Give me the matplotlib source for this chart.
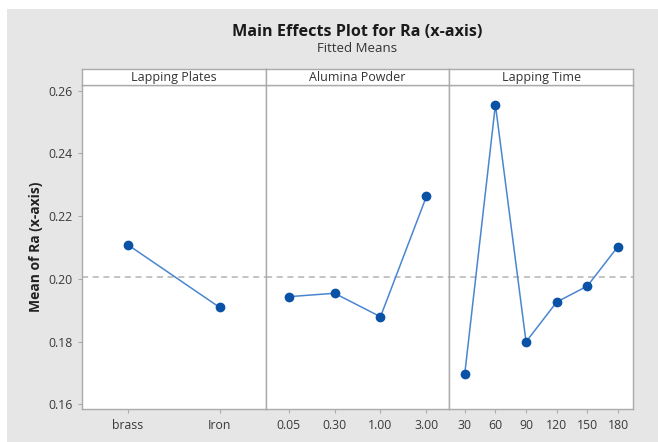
import matplotlib.pyplot as plt
from matplotlib.patches import Rectangle

plt.rcParams['font.family'] = ['Open Sans', 'DejaVu Sans']

# fitted means
plates_labels = ['brass', 'Iron']
plates_means = [0.2109, 0.1909]

powder_labels = ['0.05', '0.30', '1.00', '3.00']
powder_means = [0.1943, 0.1954, 0.1879, 0.2263]

time_labels = ['30', '60', '90', '120', '150', '180']
time_means = [0.1697, 0.2555, 0.1799, 0.1926, 0.1977, 0.2103]

panel_titles = ['Lapping Plates', 'Alumina Powder', 'Lapping Time']
grand_mean = 0.2007
y_ticks = [0.16, 0.18, 0.20, 0.22, 0.24, 0.26]

W, H = 658, 442
fig = plt.figure(figsize=(W / 100, H / 100), dpi=100)
fig.patch.set_facecolor('white')
fig.patches.append(Rectangle((7 / W, 0), 1 - 7 / W, 1 - 9 / H,
                             transform=fig.transFigure, facecolor='#e6e6e6',
                             edgecolor='none', zorder=-10))

left, right = 81.7, 633.3
top, bottom = 84.7, 409.3
strip_top = 69.0
pw = (right - left) / 3
spine_col = '#ababab'
line_col = '#4a86d0'
mark_col = '#0a52a6'

panels = [(plates_labels, plates_means),
          (powder_labels, powder_means),
          (time_labels, time_means)]

for i, (labels, means) in enumerate(panels):
    x0 = left + i * pw
    ax = fig.add_axes([x0 / W, 1 - bottom / H, pw / W, (bottom - top) / H])
    ax.set_facecolor('white')
    xs = list(range(1, len(labels) + 1))
    ax.axhline(grand_mean, color='#b4b4b4', lw=1.1, ls=(0, (4, 3)), zorder=1)
    ax.plot(xs, means, color=line_col, lw=1.1, zorder=2)
    ax.plot(xs, means, 'o', color=mark_col, ms=6, zorder=3)
    ax.set_xlim(0.5, len(labels) + 0.5)
    ax.set_ylim(0.1584, 0.2619)
    ax.set_xticks(xs)
    ax.set_xticklabels(labels)
    ax.set_yticks(y_ticks)
    for s in ax.spines.values():
        s.set_color(spine_col)
        s.set_linewidth(1.0)
    ax.tick_params(axis='both', colors=spine_col, labelcolor='#3a3a3a',
                   labelsize=8.8, length=3, width=0.8, direction='out')
    ax.tick_params(axis='x', pad=4)
    if i == 0:
        ax.set_yticklabels(['%.2f' % v for v in y_ticks])
        ax.set_ylabel('Mean of Ra (x-axis)', fontsize=10, fontweight='bold',
                      color='#222222', labelpad=4)
    else:
        ax.tick_params(axis='y', left=False, labelleft=False)

    sax = fig.add_axes([x0 / W, 1 - top / H, pw / W, (top - strip_top) / H])
    sax.set_facecolor('white')
    sax.set_xticks([])
    sax.set_yticks([])
    for s in sax.spines.values():
        s.set_color(spine_col)
        s.set_linewidth(1.0)
    sax.text(0.5, 0.45, panel_titles[i], ha='center', va='center',
             fontsize=9, color='#333333', transform=sax.transAxes)

cx = (left + right) / 2 / W
fig.text(cx, 1 - 32 / H, 'Main Effects Plot for Ra (x-axis)', ha='center',
         va='center', fontsize=11.6, fontweight='bold', color='#1a1a1a')
fig.text(cx, 1 - 49 / H, 'Fitted Means', ha='center', va='center',
         fontsize=9.5, color='#333333')

fig.savefig('out.png', dpi=100)
